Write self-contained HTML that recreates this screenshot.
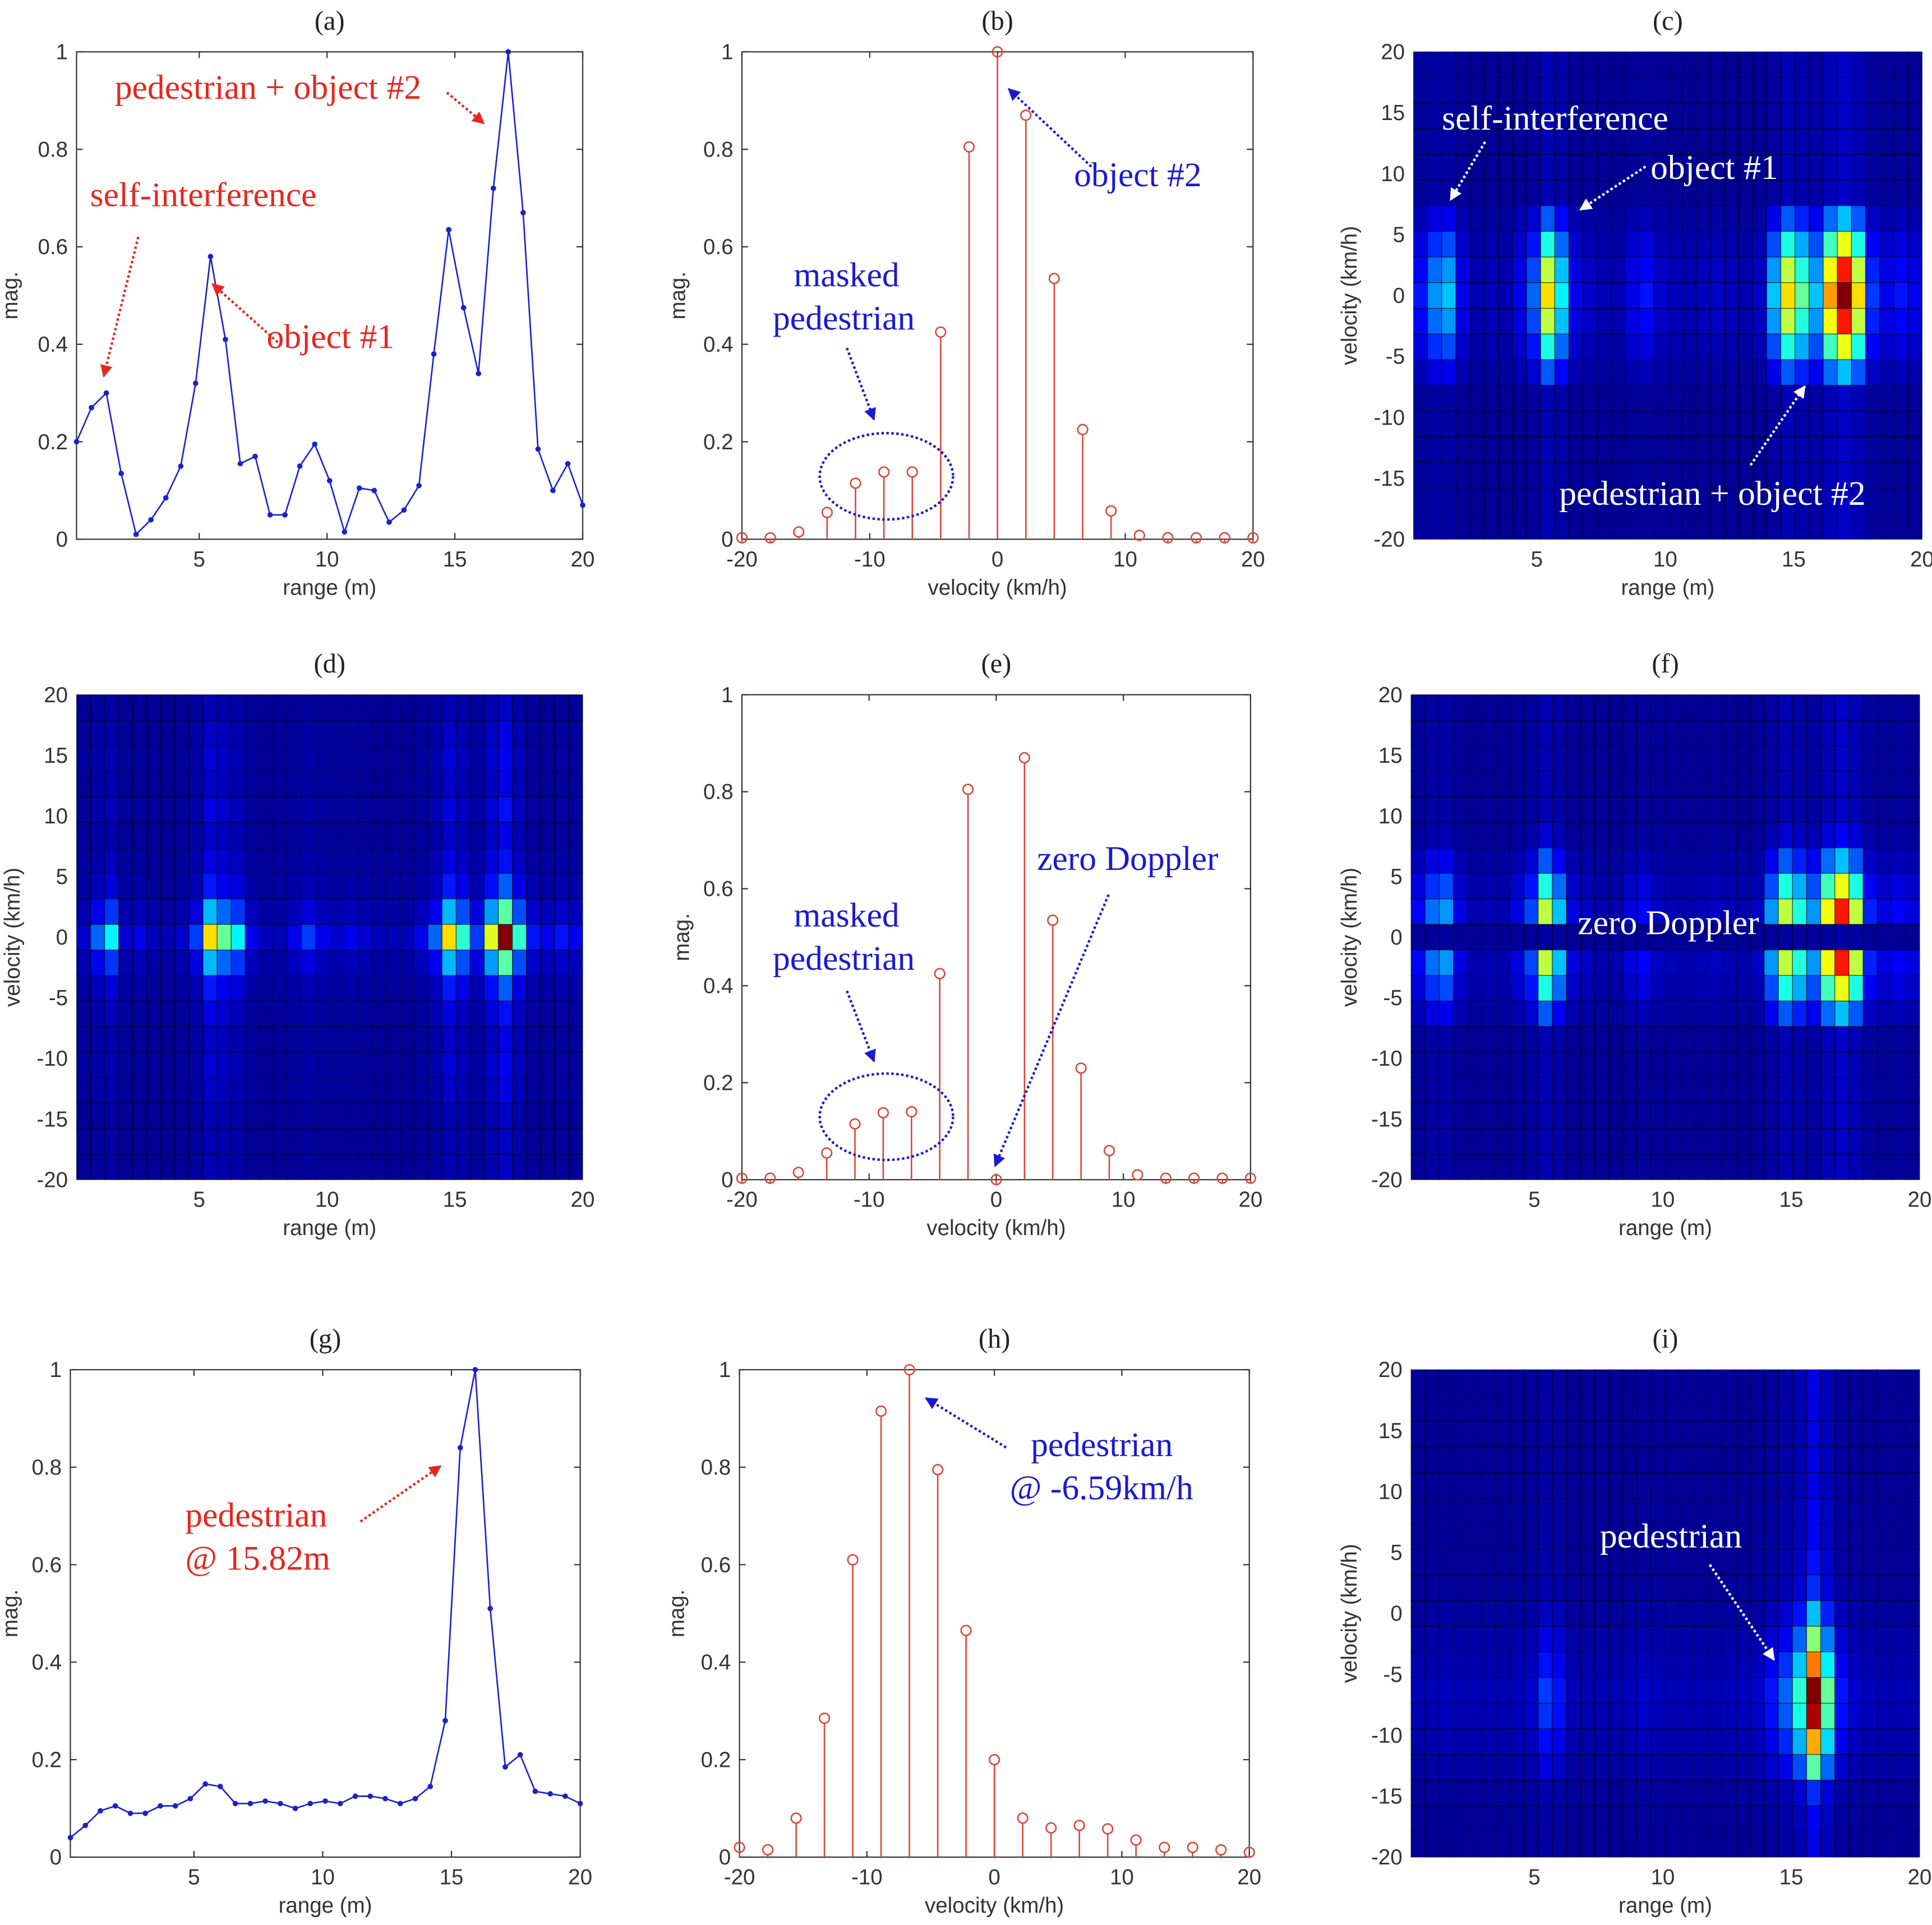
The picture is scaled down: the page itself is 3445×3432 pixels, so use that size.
<!DOCTYPE html>
<html><head><meta charset="utf-8"><style>
html,body{margin:0;padding:0;background:#fff;}
svg{display:block;}
.tk{font-family:"Liberation Sans",sans-serif;font-size:17.5px;fill:#333;}
.ttl{font-family:"Liberation Serif",serif;font-size:22px;fill:#222;}
.an{font-family:"Liberation Serif",serif;font-size:28px;}
</style></head><body>
<svg id="fig" xmlns="http://www.w3.org/2000/svg" width="3445" height="3432" viewBox="0 0 1565 1560" preserveAspectRatio="none">
<defs>
<marker id="arR" viewBox="0 0 10 10" refX="9" refY="5" markerWidth="5" markerHeight="5" orient="auto"><path d="M0,0L10,5L0,10z" fill="#e8261e"/></marker>
<marker id="arB" viewBox="0 0 10 10" refX="9" refY="5" markerWidth="5" markerHeight="5" orient="auto"><path d="M0,0L10,5L0,10z" fill="#1a1ad0"/></marker>
<marker id="arW" viewBox="0 0 10 10" refX="9" refY="5" markerWidth="5" markerHeight="5" orient="auto"><path d="M0,0L10,5L0,10z" fill="#fff"/></marker>
</defs>
</svg>
<script>
// ---------- data ----------
const lineA = [0.2,0.27,0.30,0.135,0.01,0.04,0.085,0.15,0.32,0.58,0.41,0.155,0.17,0.05,0.05,0.15,0.195,0.12,0.015,0.105,0.1,0.035,0.06,0.11,0.38,0.635,0.475,0.34,0.72,1.0,0.67,0.185,0.1,0.155,0.07];
const lineG = [0.04,0.065,0.095,0.105,0.09,0.09,0.105,0.105,0.12,0.15,0.145,0.11,0.11,0.115,0.11,0.1,0.11,0.115,0.11,0.125,0.125,0.12,0.11,0.12,0.145,0.28,0.84,1.0,0.51,0.185,0.21,0.135,0.13,0.125,0.11];
const stemB = [0.003,0.003,0.015,0.055,0.115,0.138,0.138,0.425,0.805,1.0,0.87,0.535,0.225,0.058,0.008,0.003,0.003,0.003,0.003];
const stemE = [0.003,0.003,0.015,0.055,0.115,0.138,0.14,0.425,0.805,0.0,0.87,0.535,0.23,0.06,0.01,0.003,0.003,0.003,0.003];
const stemH = [0.02,0.015,0.08,0.285,0.61,0.915,1.0,0.795,0.465,0.2,0.08,0.06,0.065,0.058,0.035,0.02,0.02,0.015,0.01];
const colC = [0.25,0.4,0.45,0.2,0.1,0.12,0.1,0.2,0.35,0.75,0.5,0.2,0.15,0.1,0.1,0.2,0.25,0.15,0.12,0.1,0.12,0.15,0.12,0.1,0.15,0.45,0.75,0.6,0.45,0.8,1.0,0.75,0.3,0.2,0.25,0.2];
const rowC = [0.05,0.05,0.05,0.05,0.05,0.05,0.3,0.6,0.85,1.0,0.85,0.6,0.3,0.05,0.05,0.05,0.05,0.05,0.05];
const colD = [0.15,0.35,0.5,0.15,0.2,0.12,0.1,0.15,0.3,0.75,0.6,0.5,0.2,0.12,0.1,0.2,0.3,0.2,0.15,0.2,0.15,0.12,0.1,0.1,0.2,0.35,0.75,0.55,0.3,0.7,1.0,0.55,0.25,0.2,0.25,0.2];
const rowD = [0.05,0.08,0.1,0.08,0.12,0.08,0.12,0.2,0.45,1.0,0.45,0.2,0.12,0.08,0.1,0.08,0.05,0.05,0.05];
const rowF = [0.05,0.05,0.05,0.05,0.05,0.1,0.3,0.6,0.85,0.02,0.85,0.6,0.3,0.05,0.05,0.05,0.05,0.05,0.05];
const colI = [0.1,0.1,0.12,0.1,0.1,0.1,0.1,0.12,0.15,0.3,0.25,0.12,0.1,0.1,0.1,0.12,0.15,0.12,0.1,0.1,0.1,0.1,0.12,0.12,0.15,0.25,0.35,0.55,1.0,0.6,0.25,0.15,0.12,0.1,0.1,0.1];
const rowI = [0.08,0.08,0.08,0.08,0.08,0.1,0.1,0.12,0.15,0.3,0.5,0.75,1.0,0.95,0.7,0.45,0.15,0.1,0.08];
const magTicks = [0,0.2,0.4,0.6,0.8,1];
const magLabels = ["0","0.2","0.4","0.6","0.8","1"];
const rangeTicks = [5,10,15,20];
const velTicks = [-20,-10,0,10,20];
const velYTicks = [20,15,10,5,0,-5,-10,-15,-20];

// ---------- helpers ----------
const NS="http://www.w3.org/2000/svg";
const svg=document.getElementById('fig');
function mk(tag,attrs,parent){const e=document.createElementNS(NS,tag);for(const k in attrs)e.setAttribute(k,attrs[k]);(parent||svg).appendChild(e);return e;}
function txt(s,x,y,cls,anchor,fill,parent){const t=mk('text',{x:x,y:y,class:cls,'text-anchor':anchor||'start'},parent);if(fill)t.setAttribute('fill',fill);t.textContent=s;return t;}
function jet(v){v=Math.max(0,Math.min(1,v));const c=a=>Math.round(255*Math.max(0,Math.min(1,1.5-Math.abs(4*v-a))));return `rgb(${c(3)},${c(2)},${c(1)})`;}
function frame(name,L,T,R,B,title,xlab,ylab,ylabX){
  const g=mk('g',{});
  
  
  const t=txt(title,(L+R)/2,T-18,'ttl','middle',null,g);
  
  
  const xl=txt(xlab,(L+R)/2,B+45,'tk','middle',null,g);
  
  
  const yl=txt(ylab,0,0,'tk','middle',null,g);
  yl.setAttribute('transform',`translate(${ylabX},${(T+B)/2}) rotate(-90)`);
  
  
  return g;
}
function box(g,L,T,R,B){const r=mk('rect',{x:L,y:T,width:R-L,height:B-T,fill:'none',stroke:'#333','stroke-width':1},g);}
function xticks(g,ticks,sx,T,B,labels){ticks.forEach((v,i)=>{const x=sx(v);mk('line',{x1:x,y1:B,x2:x,y2:B-5,stroke:'#333'},g);mk('line',{x1:x,y1:T,x2:x,y2:T+5,stroke:'#333'},g);const t=txt(labels?labels[i]:String(v),x,B+22,'tk','middle',null,g);});}
function yticks(g,ticks,sy,L,R,labels){ticks.forEach((v,i)=>{const y=sy(v);mk('line',{x1:L,y1:y,x2:L+5,y2:y,stroke:'#333'},g);mk('line',{x1:R,y1:y,x2:R-5,y2:y,stroke:'#333'},g);const t=txt(labels?labels[i]:String(v),L-7,y+6,'tk','end',null,g);});}
function arrow(x1,y1,x2,y2,col,m,name){const l=mk('line',{x1,y1,x2,y2,stroke:col,'stroke-width':2,'stroke-dasharray':'2 2','marker-end':`url(#${m})`});}
function ann(s,x,y,col,name){const t=txt(s,x,y,'an','start',col);}

function linePanel(name,L,T,R,B,title,data,ylabX){
  const g=frame(name,L,T,R,B,title,'range (m)','mag.',ylabX);
  const x0=L-(0.2/19.8)*(R-L); const sxx=v=>x0+v/20*(R-x0);
  const sy=v=>B-v*(B-T);
  box(g,L,T,R,B);
  xticks(g,rangeTicks,sxx,T,B);
  yticks(g,magTicks,sy,L,R,magLabels);
  const n=data.length;const xs=data.map((_,i)=>0.2+i*19.8/(n-1));
  const p=mk('polyline',{points:data.map((v,i)=>`${sxx(xs[i])},${sy(v)}`).join(' '),fill:'none',stroke:'#1a22c8','stroke-width':1.2},g);
  
  
  data.forEach((v,i)=>{const c=mk('circle',{cx:sxx(xs[i]),cy:sy(v),r:2.2,fill:'#1a22c8'},g);});
}
function stemPanel(name,L,T,R,B,title,data,ylabX){
  const g=frame(name,L,T,R,B,title,'velocity (km/h)','mag.',ylabX);
  const sx=v=>L+(v+20)/40*(R-L);const sy=v=>B-v*(B-T);
  box(g,L,T,R,B);
  xticks(g,velTicks,sx,T,B);
  yticks(g,magTicks,sy,L,R,magLabels);
  const n=data.length;
  data.forEach((v,i)=>{const vx=-20+i*40/(n-1);const x=sx(vx);
    const l=mk('line',{x1:x,y1:B,x2:x,y2:sy(v)+4,stroke:'#d9483a','stroke-width':1.2},g);
    const c=mk('circle',{cx:x,cy:sy(v),r:4,fill:'none',stroke:'#d9483a','stroke-width':1.2},g);});
}
function heatPanel(name,L,T,R,B,title,cols,rows,ylabX){
  const g=frame(name,L,T,R,B,title,'range (m)','velocity (km/h)',ylabX);
  const nc=cols.length,nr=rows.length,cw=(R-L)/nc,rh=(B-T)/nr;
  rows.forEach((rv,r)=>cols.forEach((cv,c)=>{
    const cell=mk('rect',{x:L+c*cw,y:T+r*rh,width:cw,height:rh,fill:jet(0.02+0.98*Math.pow(cv,1.5)*rv),stroke:'#000','stroke-opacity':0.55,'stroke-width':0.6},g);
    
    
  }));
  const x0=L-(0.2/19.8)*(R-L);const sx=v=>x0+v/20*(R-x0);const sy=v=>T+(20-v)/40*(B-T);
  rangeTicks.forEach(v=>{const t=txt(String(v),sx(v),B+22,'tk','middle',null,g);});
  velYTicks.forEach(v=>{const t=txt(String(v),L-7,sy(v)+6,'tk','end',null,g);});
}

// ---------- panels ----------
linePanel('panel-a',62,42,472,437,'(a)',lineA,14);
stemPanel('panel-b',601,42,1015,437,'(b)',stemB,555);
heatPanel('panel-c',1145,42,1557,437,'(c)',colC,rowC,1099);
heatPanel('panel-d',62,563,472,956,'(d)',colD,rowD,16);
stemPanel('panel-e',601,563,1013,956,'(e)',stemE,558);
heatPanel('panel-f',1143,563,1555,956,'(f)',colC,rowF,1099);
linePanel('panel-g',57,1110,470,1505,'(g)',lineG,14);
stemPanel('panel-h',599,1110,1012,1505,'(h)',stemH,554);
heatPanel('panel-i',1143,1110,1555,1505,'(i)',colI,rowI,1099);

// ---------- annotations ----------
const RED='#e8261e',BLUE='#1a1ad0',WH='#fff';
ann('pedestrian +  object #2',93,80,RED,'annotation-pedestrian-object2');
arrow(362,75,392,100,RED,'arR','arrow-object2');
ann('self-interference',73,167,RED,'annotation-self-interference');
arrow(112,192,84,305,RED,'arR','arrow-self-interference');
ann('object #1',216,282,RED,'annotation-object1');
arrow(228,280,172,230,RED,'arR','arrow-object1');

ann('object #2',870,151,BLUE,'annotation-object2-b');
arrow(884,135,817,72,BLUE,'arB','arrow-object2-b');
ann('masked',643,232,BLUE,'annotation-masked-b');
ann('pedestrian',626,267,BLUE,'annotation-pedestrian-b');
arrow(686,282,708,340,BLUE,'arB','arrow-masked-b');
let el=mk('ellipse',{cx:718,cy:386,rx:54,ry:35,fill:'none',stroke:BLUE,'stroke-width':2,'stroke-dasharray':'2 2'});



ann('self-interference',1168,105,WH,'annotation-self-interference-c');
arrow(1203,115,1175,162,WH,'arW','arrow-self-interference-c');
ann('object #1',1337,145,WH,'annotation-object1-c');
arrow(1333,135,1280,170,WH,'arW','arrow-object1-c');
ann('pedestrian + object #2',1263,409,WH,'annotation-pedestrian-object2-c');
arrow(1418,377,1462,313,WH,'arW','arrow-pedestrian-c');

ann('zero Doppler',840,705,BLUE,'annotation-zero-doppler-e');
arrow(898,725,806,945,BLUE,'arB','arrow-zero-doppler-e');
ann('masked',643,751,BLUE,'annotation-masked-e');
ann('pedestrian',626,786,BLUE,'annotation-pedestrian-e');
arrow(686,803,708,860,BLUE,'arB','arrow-masked-e');
el=mk('ellipse',{cx:718,cy:905,rx:54,ry:35,fill:'none',stroke:BLUE,'stroke-width':2,'stroke-dasharray':'2 2'});



ann('zero Doppler',1278,757,WH,'annotation-zero-doppler-f');

ann('pedestrian',150,1237,RED,'annotation-pedestrian-g');
ann('@ 15.82m',150,1272,RED,'annotation-range-g');
arrow(292,1233,357,1188,RED,'arR','arrow-pedestrian-g');

ann('pedestrian',835,1180,BLUE,'annotation-pedestrian-h');
ann('@ -6.59km/h',818,1215,BLUE,'annotation-velocity-h');
arrow(815,1173,750,1133,BLUE,'arB','arrow-pedestrian-h');

ann('pedestrian',1296,1254,WH,'annotation-pedestrian-i');
arrow(1385,1268,1437,1345,WH,'arW','arrow-pedestrian-i');
</script>
</body></html>
